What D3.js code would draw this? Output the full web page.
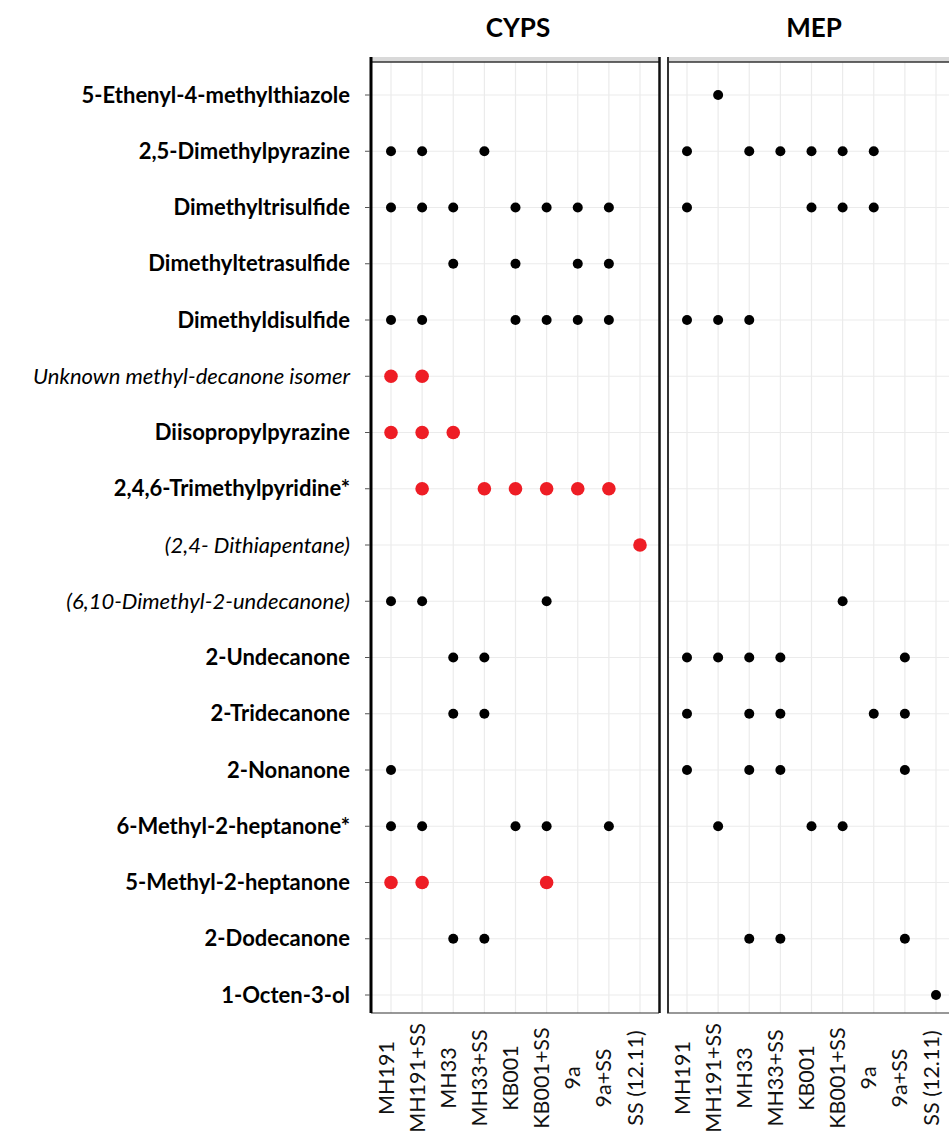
<!DOCTYPE html>
<html>
<head>
<meta charset="utf-8">
<script src="https://cdn.jsdelivr.net/npm/d3@7"></script>
<style>
  html, body { margin: 0; padding: 0; background: #fff; }
  svg { display: block; }
</style>
</head>
<body>
<svg id="chart" width="949" height="1134"></svg>
<script>
// ---- data ----
const compounds = [
  "5-Ethenyl-4-methylthiazole",
  "2,5-Dimethylpyrazine",
  "Dimethyltrisulfide",
  "Dimethyltetrasulfide",
  "Dimethyldisulfide",
  "Unknown methyl-decanone isomer",
  "Diisopropylpyrazine",
  "2,4,6-Trimethylpyridine*",
  "(2,4- Dithiapentane)",
  "(6,10-Dimethyl-2-undecanone)",
  "2-Undecanone",
  "2-Tridecanone",
  "2-Nonanone",
  "6-Methyl-2-heptanone*",
  "5-Methyl-2-heptanone",
  "2-Dodecanone",
  "1-Octen-3-ol"
];
const italicCompounds = [
  "Unknown methyl-decanone isomer",
  "(2,4- Dithiapentane)",
  "(6,10-Dimethyl-2-undecanone)"
];
const conditions = ["MH191", "MH191+SS", "MH33", "MH33+SS", "KB001", "KB001+SS", "9a", "9a+SS", "SS (12.11)"];
const panels = ["CYPS", "MEP"];

// detected conditions per compound (same order as compounds)
const cypsDetected = [
  [],
  ["MH191", "MH191+SS", "MH33+SS"],
  ["MH191", "MH191+SS", "MH33", "KB001", "KB001+SS", "9a", "9a+SS"],
  ["MH33", "KB001", "9a", "9a+SS"],
  ["MH191", "MH191+SS", "KB001", "KB001+SS", "9a", "9a+SS"],
  ["MH191", "MH191+SS"],
  ["MH191", "MH191+SS", "MH33"],
  ["MH191+SS", "MH33+SS", "KB001", "KB001+SS", "9a", "9a+SS"],
  ["SS (12.11)"],
  ["MH191", "MH191+SS", "KB001+SS"],
  ["MH33", "MH33+SS"],
  ["MH33", "MH33+SS"],
  ["MH191"],
  ["MH191", "MH191+SS", "KB001", "KB001+SS", "9a+SS"],
  ["MH191", "MH191+SS", "KB001+SS"],
  ["MH33", "MH33+SS"],
  []
];
const mepDetected = [
  ["MH191+SS"],
  ["MH191", "MH33", "MH33+SS", "KB001", "KB001+SS", "9a"],
  ["MH191", "KB001", "KB001+SS", "9a"],
  [],
  ["MH191", "MH191+SS", "MH33"],
  [],
  [],
  [],
  [],
  ["KB001+SS"],
  ["MH191", "MH191+SS", "MH33", "MH33+SS", "9a+SS"],
  ["MH191", "MH33", "MH33+SS", "9a", "9a+SS"],
  ["MH191", "MH33", "MH33+SS", "9a+SS"],
  ["MH191+SS", "KB001", "KB001+SS"],
  [],
  ["MH33", "MH33+SS", "9a+SS"],
  ["SS (12.11)"]
];
// compounds found only in CYPS (shown in red)
const cypsOnly = [
  "Unknown methyl-decanone isomer",
  "Diisopropylpyrazine",
  "2,4,6-Trimethylpyridine*",
  "(2,4- Dithiapentane)",
  "5-Methyl-2-heptanone"
];

// ---- layout ----
const svg = d3.select("#chart");
const panelW = 288;
const panelLeft = { CYPS: 371, MEP: 667 };
const panelTop = 62, panelBottom = 1013;

const y = d3.scalePoint().domain(compounds).range([95, 995]);

const detected = { CYPS: cypsDetected, MEP: mepDetected };

panels.forEach(p => {
  const x0 = panelLeft[p];
  const x = d3.scalePoint().domain(conditions).range([x0 + 20, x0 + 269]);
  const g = svg.append("g");

  // grid
  g.selectAll("line.vg").data(conditions).join("line")
    .attr("x1", d => x(d)).attr("x2", d => x(d))
    .attr("y1", panelTop).attr("y2", panelBottom)
    .attr("stroke", "#ebebeb").attr("stroke-width", 1.2);
  g.selectAll("line.hg").data(compounds).join("line")
    .attr("x1", x0).attr("x2", x0 + panelW)
    .attr("y1", d => y(d)).attr("y2", d => y(d))
    .attr("stroke", "#ebebeb").attr("stroke-width", 1.2);

  // strip
  g.append("rect").attr("x", x0).attr("y", 57).attr("width", panelW).attr("height", 5)
    .attr("fill", "#d9d9d9");
  g.append("line").attr("x1", x0).attr("x2", x0 + panelW).attr("y1", 62).attr("y2", 62)
    .attr("stroke", "#333").attr("stroke-width", 1.5);

  // bottom axis line
  g.append("line").attr("x1", x0).attr("x2", x0 + panelW).attr("y1", panelBottom).attr("y2", panelBottom)
    .attr("stroke", "#333").attr("stroke-width", 1.2);

  // title
  g.append("text").attr("x", x0 + 147).attr("y", 37)
    .attr("text-anchor", "middle")
    .style("font-family", "Lato, 'Open Sans', sans-serif")
    .style("font-weight", "bold").style("font-size", "26px")
    .text(p);

  // points
  const pts = [];
  compounds.forEach((c, i) => {
    detected[p][i].forEach(cond => pts.push({ c, cond, red: p === "CYPS" && cypsOnly.includes(c) }));
  });
  g.selectAll("circle").data(pts).join("circle")
    .attr("cx", d => x(d.cond)).attr("cy", d => y(d.c))
    .attr("r", d => d.red ? 6.8 : 5)
    .attr("fill", d => d.red ? "#ee1d25" : "#000");

  // x labels
  g.selectAll("text.xl").data(conditions).join("text")
    .attr("class", "xl")
    .attr("transform", d => `translate(${x(d) - 5},1078) rotate(-90)`)
    .attr("dy", "0.35em")
    .attr("text-anchor", "middle")
    .style("font-family", "Lato, 'Open Sans', sans-serif")
    .style("font-size", "21.5px")
    .attr("fill", "#111")
    .text(d => d);
});

// panel borders
svg.append("line").attr("x1", 371).attr("x2", 371).attr("y1", 57).attr("y2", panelBottom)
  .attr("stroke", "#000").attr("stroke-width", 3);
svg.append("line").attr("x1", 659.5).attr("x2", 659.5).attr("y1", 57).attr("y2", panelBottom)
  .attr("stroke", "#111").attr("stroke-width", 2.5);
svg.append("line").attr("x1", 668).attr("x2", 668).attr("y1", 57).attr("y2", panelBottom)
  .attr("stroke", "#333").attr("stroke-width", 2);

// y ticks
svg.selectAll("line.yt").data(compounds).join("line")
  .attr("x1", 365).attr("x2", 370)
  .attr("y1", d => y(d)).attr("y2", d => y(d))
  .attr("stroke", "#555").attr("stroke-width", 1);

// y labels
svg.selectAll("text.yl").data(compounds).join("text")
  .attr("class", "yl")
  .attr("x", 350).attr("y", d => y(d))
  .attr("dy", "0.35em")
  .attr("text-anchor", "end")
  .style("font-family", "Lato, 'Open Sans', sans-serif")
  .style("font-size", "22px")
  .style("font-weight", d => italicCompounds.includes(d) ? "normal" : "bold")
  .style("font-style", d => italicCompounds.includes(d) ? "italic" : "normal")
  .attr("fill", "#000")
  .text(d => d);
</script>
</body>
</html>
